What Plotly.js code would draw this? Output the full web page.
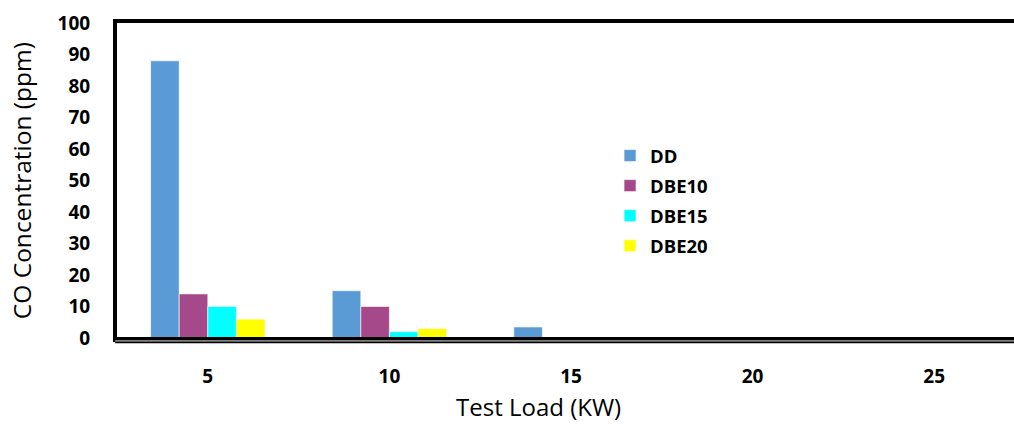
<!DOCTYPE html>
<html><head><meta charset="utf-8">
<script src="https://cdn.plot.ly/plotly-3.0.1.min.js"></script>
<style>html,body{margin:0;padding:0;overflow:hidden;background:#fff}#c{width:1030px;height:424px}</style>
</head><body><div id="c"></div>
<script>
const categories = ['5','10','15','20','25'];
const seriesNames = ['DD','DBE10','DBE15','DBE20'];
const DD = [88, 15, 3.5, 0, 0];
const DBE10 = [14, 10, 0, 0, 0];
const DBE15 = [10, 2, 0, 0, 0];
const DBE20 = [6, 3, 0, 0, 0];
const colors = ['#5b9bd5','#a5498a','#00ffff','#ffff00'];
const seriesValues = [DD, DBE10, DBE15, DBE20];

const traces = seriesValues.map((v,i)=>({
  type:'bar', x:categories, y:v, name:seriesNames[i], legendgroup:seriesNames[i],
  marker:{color:colors[i], line:{color:'rgba(255,255,255,0.6)', width:1}}
}));
const F = '"Open Sans", Lato, sans-serif';
const layout = {
  width:1030, height:424,
  margin:{l:117, r:5, t:23, b:86},
  paper_bgcolor:'#fff', plot_bgcolor:'#fff',
  barmode:'group', bargap:0.37, bargroupgap:0,
  showlegend:true,
  legend:{x:0.543, y:0.638, xanchor:'left', yanchor:'top', bgcolor:'rgba(0,0,0,0)',
    font:{family:F, size:18.5, color:'#000', weight:'bold'}, tracegroupgap:3},
  xaxis:{type:'category', showline:true, linecolor:'#000', linewidth:4, mirror:true,
    ticks:'', ticklabelstandoff:18, tickfont:{family:F, size:19, color:'#000', weight:'bold'},
    showgrid:false, zeroline:false},
  yaxis:{range:[0,100], dtick:10, showline:true, linecolor:'#000', linewidth:4, mirror:true,
    ticks:'', ticklabelstandoff:19, tickfont:{family:F, size:19, color:'#000', weight:'bold'},
    showgrid:false, zeroline:false},
  shapes:[
    {type:'line', xref:'paper', yref:'paper', x0:0, x1:1, y0:0, y1:0, ysizemode:'pixel', yanchor:0,
     line:{color:'#000', width:2}},
    {type:'line', xref:'paper', yref:'paper', x0:-0.002, x1:1, y0:-3, y1:-3, ysizemode:'pixel', yanchor:0,
     line:{color:'#aaa', width:1.5}},
    {type:'line', xref:'paper', yref:'paper', x0:-0.002, x1:1, y0:-4.5, y1:-4.5, ysizemode:'pixel', yanchor:0,
     line:{color:'#000', width:1.5}}
  ],
  annotations:[
    {text:'CO Concentration (ppm)', xref:'paper', yref:'paper', x:-0.105, y:0.5, xanchor:'center', yanchor:'middle',
     textangle:-90, showarrow:false, font:{family:F, size:24.5, color:'#000'}},
    {text:'Test Load (KW)', xref:'paper', yref:'paper', x:0.464, y:-0.218, xanchor:'center', yanchor:'middle',
     showarrow:false, borderpad:0, font:{family:F, size:24, color:'#000'}}
  ]
};
Plotly.newPlot('c', traces, layout, {displayModeBar:false, staticPlot:true});
</script></body></html>
